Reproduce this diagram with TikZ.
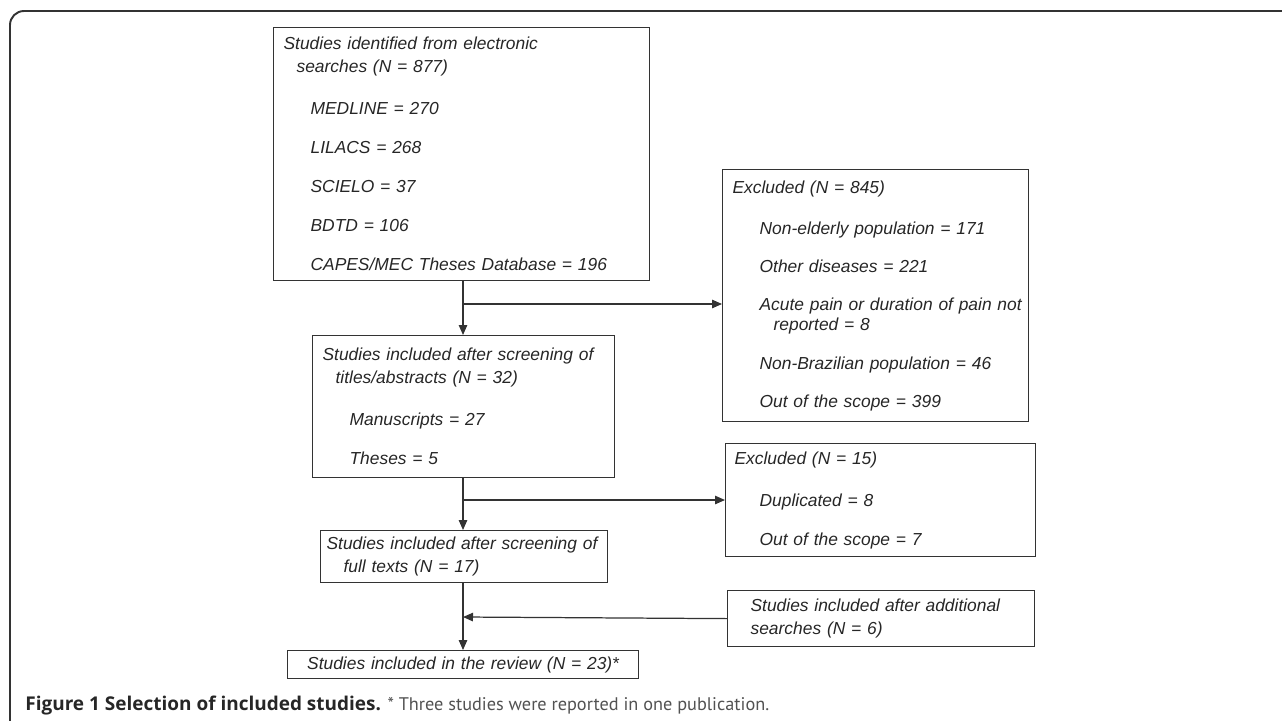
\documentclass[tikz,border=0pt]{standalone}
\usepackage{fontspec}
\setmainfont{Liberation Sans}
\newfontfamily\capfont{PT Sans}
\newfontfamily\capboldfont{Open Sans}
\usepackage{tikz}
\usetikzlibrary{arrows.meta,positioning,calc}
\definecolor{ink}{HTML}{262626}
\definecolor{edge}{HTML}{333333}

\begin{document}
\begin{tikzpicture}[
  box/.style={rectangle,draw=edge,line width=0.7pt,anchor=north west,align=left,
    inner xsep=0.2cm,inner ysep=0pt,font=\fontsize{9.9}{13.1}\selectfont\itshape},
  flow/.style={draw=edge,line width=0.7pt,-{Triangle[length=2mm,width=1.7mm]}},
  every node/.style={text=ink}]
  \useasboundingbox (0,0) rectangle (25.64,-14.4);
  \draw[edge,line width=1.1pt,rounded corners=0.28cm] (0.2,-14.5) -- (0.2,-0.22) -- (25.7,-0.22);

  \node[box,text width=7.12cm,minimum height=5.06cm] (search) at (5.46,-0.54)
    {Studies identified from electronic\\
     \hspace*{0.26cm}searches (N = 877)\\[10.8pt]
     \hspace*{0.54cm}MEDLINE = 270\\[9.1pt]
     \hspace*{0.54cm}LILACS = 268\\[9.1pt]
     \hspace*{0.54cm}SCIELO = 37\\[9.1pt]
     \hspace*{0.54cm}BDTD = 106\\[9.1pt]
     \hspace*{0.54cm}CAPES/MEC Theses Database = 196};
  \node[box,text width=5.64cm,minimum height=2.84cm] (screen) at (6.24,-6.70)
    {Studies included after screening of\\
     \hspace*{0.26cm}titles/abstracts (N = 32)\\[10.8pt]
     \hspace*{0.54cm}Manuscripts = 27\\[9.1pt]
     \hspace*{0.54cm}Theses = 5};
  \node[box,text width=5.50cm,minimum height=1.04cm,inner xsep=0.12cm] (full) at (6.40,-10.60)
    {Studies included after screening of\\
     \hspace*{0.34cm}full texts (N = 17)};
  \node[box,text width=7.02cm,minimum height=0.56cm,inner xsep=0pt,align=center] (review) at (5.74,-13.00)
    {Studies included in the review (N = 23)*};

  \node[box,text width=5.92cm,minimum height=5.04cm,inner xsep=0.1cm] (excl1) at (14.44,-3.38)
    {\hspace*{0.1cm}Excluded (N = 845)\\[10.5pt]
     \hspace*{0.64cm}Non-elderly population = 171\\[8.6pt]
     \hspace*{0.64cm}Other diseases = 221\\[8.6pt]
     \hspace*{0.64cm}Acute pain or duration of pain not\\[-1.6pt]
     \hspace*{0.92cm}reported = 8\\[8.6pt]
     \hspace*{0.64cm}Non-Brazilian population = 46\\[8.6pt]
     \hspace*{0.64cm}Out of the scope = 399};
  \node[box,text width=5.84cm,minimum height=2.26cm,inner xsep=0.18cm] (excl2) at (14.50,-8.86)
    {Excluded (N = 15)\\[10.8pt]
     \hspace*{0.5cm}Duplicated = 8\\[9.1pt]
     \hspace*{0.5cm}Out of the scope = 7};
  \node[box,text width=5.22cm,minimum height=1.12cm,inner xsep=0.46cm] (extra) at (14.54,-11.80)
    {Studies included after additional\\
     searches (N = 6)};

  \coordinate (j1) at (9.26,-6.08);
  \coordinate (j2) at (9.26,-10.00);
  \coordinate (j3) at (9.26,-12.34);

  \draw[flow] (search.south -| j1) -- (screen.north -| j1);
  \draw[flow] (j1) -- (j1 -| excl1.west);
  \draw[flow] (screen.south -| j2) -- (full.north -| j2);
  \draw[flow] (j2) -- (j2 -| excl2.west);
  \draw[flow] (full.south -| j3) -- (review.north -| j3);
  \draw[flow] (extra.west) -- (j3);

  \node[anchor=west,inner xsep=0pt] (caption) at (0.50,-14.12)
    {{\capboldfont\fontsize{10.8}{13}\selectfont\bfseries Figure 1 Selection of included studies.}
     {\capfont\fontsize{10.4}{13}\selectfont\color{edge!85}* Three studies were reported in one publication.}};
\end{tikzpicture}
\end{document}
